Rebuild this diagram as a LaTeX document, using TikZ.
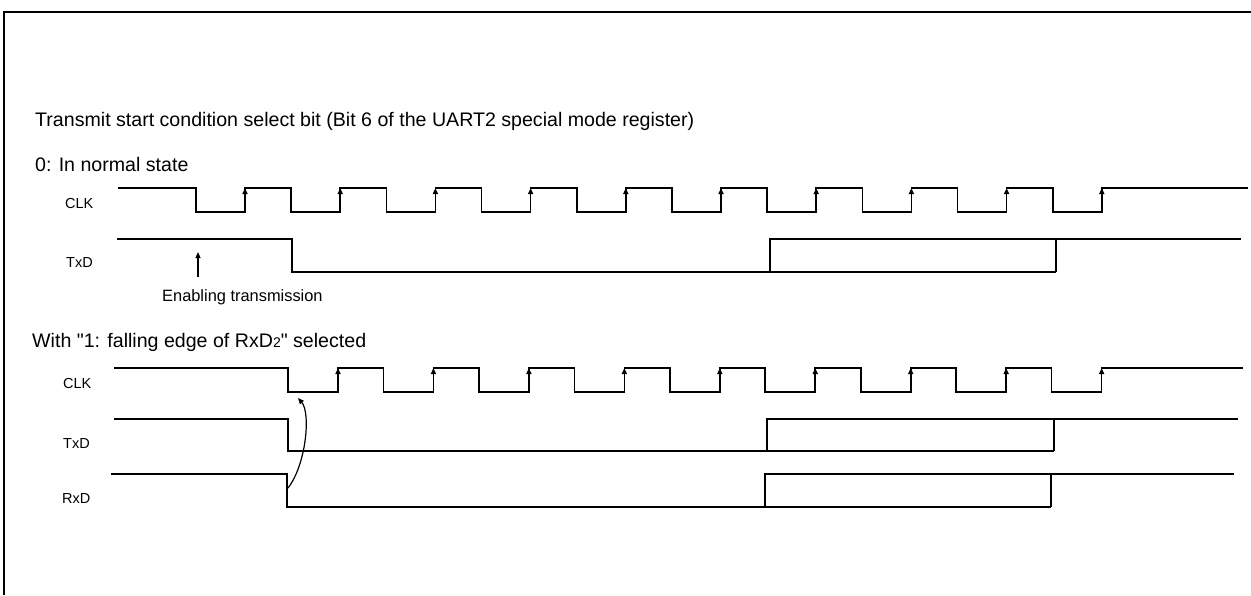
\documentclass[tikz,border=0pt]{standalone}
\usepackage{fontspec}
\setmainfont{Liberation Sans}[Ligatures=TeXOff]
\usetikzlibrary{arrows.meta}
\begin{document}
\begin{tikzpicture}[x=1pt,y=-1pt,
  wave/.style={line width=1.6pt, line join=miter},
  rise/.style={line width=1.6pt, -{Triangle[length=6pt,width=5pt]}},
  frameline/.style={line width=2pt},
  heading/.style={anchor=base west, inner sep=0pt, font=\fontsize{19.6}{23}\selectfont},
  sig/.style={anchor=base west, inner sep=0pt, font=\fontsize{14.5}{17}\selectfont},
  note/.style={anchor=base west, inner sep=0pt, font=\fontsize{16.4}{19}\selectfont},
  pointer/.style={line width=1.2pt, -{Triangle[length=6pt,width=5pt]}}]
\useasboundingbox (0,0) rectangle (1251,595);
\fill[white] (0,0) rectangle (1251,595);
\draw[frameline] (4,595) -- (4,12) -- (1251,12);

% headings
\node[heading] (title) at (35,126) {Transmit start condition select bit (Bit 6 of the UART2 special mode register)};
\node[heading] (normal) at (35,171) {0: In normal state};
\node[heading] (withsel) at (32,347) {With "1: falling edge of RxD{\fontsize{14}{14}\selectfont 2}" selected};

% signal labels
\node[sig] (clkA) at (65,208) {CLK};
\node[sig] (txdA) at (66,267) {TxD};
\node[sig] (clkB) at (63,388) {CLK};
\node[sig] (txdB) at (63,448) {TxD};
\node[sig] (rxdB) at (62,503) {RxD};

% ---- normal state ----
\draw[wave] (118,188) foreach \k in {0,...,9} {
  -- ({196+95.2*\k},188) -- ({196+95.2*\k},212) -- ({245+95.2*\k},212) -- ({245+95.2*\k},188) } -- (1248,188);
\foreach \k in {0,...,9} \draw[rise] ({245+95.2*\k},212) -- ({245+95.2*\k},188);

\draw[wave] (117,239) -- (292,239) -- (292,272) -- (1056,272);
\draw[wave] (770,272) -- (770,239) -- (1241,239);
\draw[wave] (1056,239) -- (1056,272);

\node[note] (enab) at (162,301) {Enabling transmission};
\coordinate (enabfoot) at (198,277);
\coordinate (enabtip) at (198,252);
\draw[pointer] (enabfoot) -- (enabtip);

% ---- falling edge of RxD2 ----
\draw[wave] (114,368) foreach \k in {0,...,8} {
  -- ({288+95.45*\k},368) -- ({288+95.45*\k},392) -- ({338+95.45*\k},392) -- ({338+95.45*\k},368) } -- (1243,368);
\foreach \k in {0,...,8} \draw[rise] ({338+95.45*\k},392) -- ({338+95.45*\k},368);

\draw[wave] (114,419) -- (288,419) -- (288,451) -- (1054,451);
\draw[wave] (767,451) -- (767,419) -- (1238,419);
\draw[wave] (1054,419) -- (1054,451);

\draw[wave] (111,474) -- (287,474) -- (287,507) -- (1051,507);
\draw[wave] (765,507) -- (765,474) -- (1234,474);
\draw[wave] (1051,474) -- (1051,507);

\coordinate (rxdedge) at (288,488);
\coordinate (clkedge) at (298,398);
\draw[pointer] (rxdedge) .. controls (306,465) and (311,413) .. (clkedge);
\end{tikzpicture}
\end{document}
